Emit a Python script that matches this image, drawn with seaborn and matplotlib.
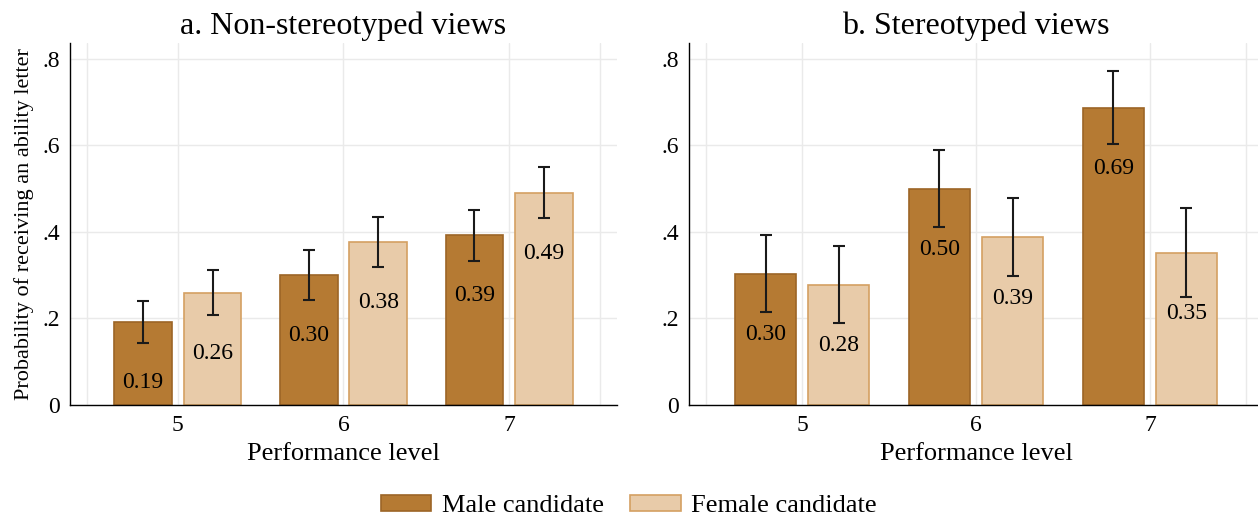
import pandas as pd
import seaborn as sns
import matplotlib.pyplot as plt
from matplotlib.patches import Patch

# performance levels on the x axis
levels = [5, 6, 7]
candidates = ["Male candidate", "Female candidate"]

# a. Non-stereotyped views
nonstereo_male = [0.191, 0.300, 0.392]
nonstereo_male_lo = [0.144, 0.243, 0.333]
nonstereo_male_hi = [0.241, 0.359, 0.451]
nonstereo_female = [0.259, 0.376, 0.490]
nonstereo_female_lo = [0.208, 0.318, 0.433]
nonstereo_female_hi = [0.312, 0.435, 0.550]

# b. Stereotyped views
stereo_male = [0.303, 0.499, 0.686]
stereo_male_lo = [0.216, 0.412, 0.602]
stereo_male_hi = [0.393, 0.589, 0.771]
stereo_female = [0.278, 0.387, 0.351]
stereo_female_lo = [0.190, 0.297, 0.249]
stereo_female_hi = [0.368, 0.479, 0.454]

fill_colors = {"Male candidate": "#B57A33", "Female candidate": "#E8CBA9"}
edge_colors = {"Male candidate": "#9C6526", "Female candidate": "#D4A062"}

sns.set_theme(style="white")
plt.rcParams['font.family'] = ['Liberation Serif', 'DejaVu Serif']
plt.rcParams.update({"text.color": "black", "axes.labelcolor": "black",
                     "xtick.color": "black", "ytick.color": "black"})

fig = plt.figure(figsize=(12.58, 5.19), dpi=100)
W, H = 1258, 519
ax1 = fig.add_axes([70 / W, 114 / H, 547 / W, 362.3 / H])
ax2 = fig.add_axes([689 / W, 114 / H, 574 / W, 362.3 / H])


def draw_panel(ax, male, male_lo, male_hi, female, female_lo, female_hi, title, ylabel):
    df = pd.DataFrame({
        "level": levels + levels,
        "prob": male + female,
        "candidate": [candidates[0]] * len(levels) + [candidates[1]] * len(levels),
    })
    sns.barplot(data=df, x="level", y="prob", hue="candidate", hue_order=candidates,
                palette=fill_colors, saturation=1, native_scale=True, width=0.84, gap=0.17,
                errorbar=None, legend=False, linewidth=1.2, ax=ax)

    lows = {candidates[0]: male_lo, candidates[1]: female_lo}
    highs = {candidates[0]: male_hi, candidates[1]: female_hi}
    for cand, container in zip(candidates, ax.containers):
        for patch in container:
            patch.set_edgecolor(edge_colors[cand])
            xc = patch.get_x() + patch.get_width() / 2
            h = patch.get_height()
            i = levels.index(int(round(xc)))
            lo, hi = lows[cand][i], highs[cand][i]
            ax.errorbar(xc, h, yerr=[[h - lo], [hi - h]], fmt="none", ecolor="#1a1a1a",
                        elinewidth=1.5, capsize=4, capthick=1.5, zorder=5)
            ax.text(xc, h - 0.14, f"{h:.2f}", ha="center", va="center", fontsize=17, color="black")

    ax.set_xlim(4.35, 7.65)
    ax.set_ylim(0, 0.837)
    ax.set_xticks(levels)
    ax.set_xticklabels([str(l) for l in levels], fontsize=17)
    ax.set_xticks([4.45, 7.55], minor=True)
    ax.set_yticks([0, 0.2, 0.4, 0.6, 0.8])
    ax.set_yticklabels(["0", ".2", ".4", ".6", ".8"], fontsize=17)
    ax.grid(True, which="both", color="#EAEAEA", linewidth=1)
    ax.set_axisbelow(True)
    ax.tick_params(axis="x", which="both", length=0, pad=7)
    ax.tick_params(axis="y", length=4, width=1, color="black", direction="out", pad=3)
    for s in ["top", "right"]:
        ax.spines[s].set_visible(False)
    for s in ["left", "bottom"]:
        ax.spines[s].set_color("black")
        ax.spines[s].set_linewidth(1)
    ax.set_title(title, fontsize=23, pad=6)
    ax.set_xlabel("Performance level", fontsize=19, labelpad=5)
    ax.set_ylabel(ylabel, fontsize=16, labelpad=6)


draw_panel(ax1, nonstereo_male, nonstereo_male_lo, nonstereo_male_hi,
           nonstereo_female, nonstereo_female_lo, nonstereo_female_hi,
           "a. Non-stereotyped views", "Probability of receiving an ability letter")
draw_panel(ax2, stereo_male, stereo_male_lo, stereo_male_hi,
           stereo_female, stereo_female_lo, stereo_female_hi,
           "b. Stereotyped views", "")

handles = [Patch(facecolor=fill_colors[c], edgecolor=edge_colors[c], linewidth=1.2) for c in candidates]
fig.legend(handles, candidates, loc="center", bbox_to_anchor=(0.5, 1 - 506 / H), ncol=2,
           frameon=False, fontsize=19, handlelength=1.9, handleheight=0.6,
           columnspacing=1.0, handletextpad=0.4)

fig.savefig("out.png", dpi=100)
